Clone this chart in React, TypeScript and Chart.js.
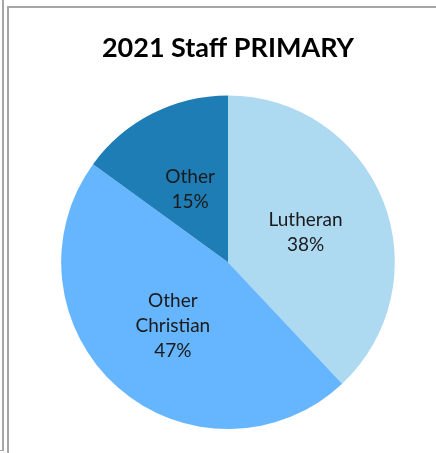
import React, { useEffect, useRef } from "react";
import { Chart, registerables } from "chart.js";

Chart.register(...registerables);

const categories = ["Lutheran", "Other Christian", "Other"];
const values = [38, 47, 15];
const colors = ["#ADD9F1", "#66B5FF", "#1E7DB4"];
const title = "2021 Staff PRIMARY";

const labelPlugin = {
  id: "sliceLabels",
  afterDatasetsDraw(chart: any) {
    const { ctx } = chart;
    const meta = chart.getDatasetMeta(0);
    const total = values.reduce((a, b) => a + b, 0);
    meta.data.forEach((arc: any, i: number) => {
      const mid = (arc.startAngle + arc.endAngle) / 2;
      const r = arc.outerRadius * 0.5;
      const x = arc.x + Math.cos(mid) * r;
      const y = arc.y + Math.sin(mid) * r;
      const words = categories[i].split(" ");
      const lines = [...words, Math.round((values[i] / total) * 100) + "%"];
      ctx.save();
      ctx.fillStyle = "#1a1a1a";
      ctx.font = "19px Lato";
      ctx.textAlign = "center";
      ctx.textBaseline = "middle";
      const lh = 25;
      const startY = y - ((lines.length - 1) * lh) / 2 + 1;
      lines.forEach((l, k) => ctx.fillText(l, x, startY + k * lh));
      ctx.restore();
    });
  },
};

export default function App() {
  const ref = useRef<HTMLCanvasElement>(null);
  useEffect(() => {
    document.body.style.margin = "0";
    const chart = new Chart(ref.current!, {
      type: "pie",
      data: {
        labels: categories,
        datasets: [
          {
            data: values,
            backgroundColor: colors,
            borderWidth: 0,
          },
        ],
      },
      options: {
        animation: false,
        responsive: false,
        maintainAspectRatio: false,
        layout: { padding: { top: 22, left: 61, right: 41, bottom: 24 } },
        plugins: {
          legend: { display: false },
          tooltip: { enabled: false },
          title: {
            display: true,
            text: title,
            color: "#000",
            font: { family: "Lato", size: 27, weight: "bold" },
            padding: { top: 10, bottom: 31 },
          },
        },
      },
      plugins: [labelPlugin],
    });
    return () => chart.destroy();
  }, []);
  return (
    <div style={{ position: "relative", width: 436, height: 453, background: "#fff" }}>
      <div style={{ position: "absolute", left: 2, top: 0, width: 2, height: 451, background: "#a6a6a6" }} />
      <div style={{ position: "absolute", left: 0, top: 450, width: 3, height: 1, background: "#a6a6a6" }} />
      <div style={{ position: "absolute", left: 7, top: 6, width: 2, height: 447, background: "#a6a6a6" }} />
      <div style={{ position: "absolute", left: 7, top: 6, width: 429, height: 2, background: "#a6a6a6" }} />
      <canvas
        ref={ref}
        width={436}
        height={453}
        style={{ position: "absolute", left: 0, top: 0, width: 436, height: 453 }}
      />
    </div>
  );
}
